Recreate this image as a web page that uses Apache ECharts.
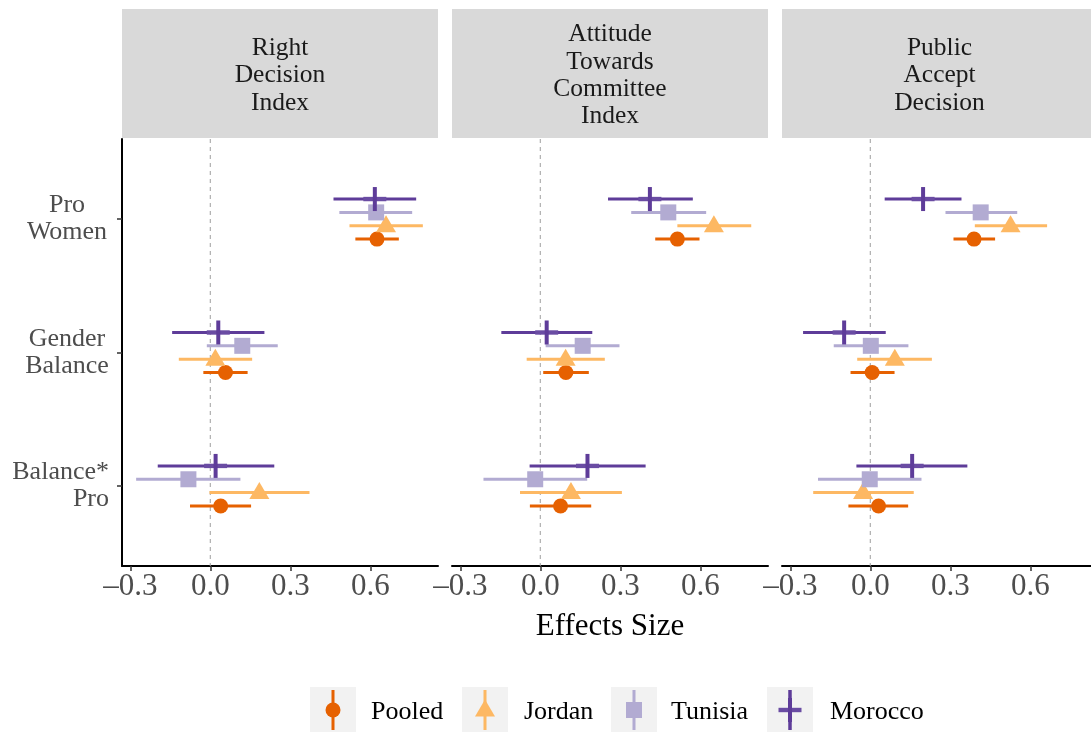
<!DOCTYPE html>
<html><head><meta charset="utf-8">
<script src="https://cdn.jsdelivr.net/npm/echarts@6/dist/echarts.min.js"></script>
<style>html,body{margin:0;padding:0;background:#fff}#c{width:1091px;height:732px}</style>
</head><body><div id="c"></div><script>
// ---------- DATA ----------
const outcomes = ['Right\nDecision\nIndex', 'Attitude\nTowards\nCommittee\nIndex', 'Public\nAccept\nDecision'];
const terms = ['Pro\nWomen', 'Gender\nBalance', 'Balance*\nPro'];
const countries = ['Pooled', 'Jordan', 'Tunisia', 'Morocco'];
const xTickValues = [-0.3, 0.0, 0.3, 0.6];
// [outcome panel][term]
const pooledEst  = [[0.625, 0.057, 0.039], [0.514, 0.096, 0.076], [0.389, 0.007, 0.031]];
const pooledLow  = [[0.544, -0.026, -0.076], [0.431, 0.011, -0.039], [0.312, -0.074, -0.082]];
const pooledHigh = [[0.707, 0.140, 0.153], [0.597, 0.182, 0.191], [0.468, 0.091, 0.142]];
const jordanEst  = [[0.659, 0.019, 0.184], [0.651, 0.095, 0.115], [0.526, 0.092, -0.027]];
const jordanLow  = [[0.522, -0.118, -0.003], [0.514, -0.051, -0.076], [0.392, -0.049, -0.214]];
const jordanHigh = [[0.797, 0.157, 0.372], [0.791, 0.242, 0.306], [0.663, 0.231, 0.163]];
const tunisiaEst  = [[0.622, 0.120, -0.082], [0.480, 0.159, -0.019], [0.414, 0.002, -0.002]];
const tunisiaLow  = [[0.484, -0.013, -0.278], [0.341, 0.020, -0.213], [0.282, -0.137, -0.196]];
const tunisiaHigh = [[0.757, 0.253, 0.113], [0.622, 0.297, 0.176], [0.551, 0.143, 0.192]];
const moroccoEst  = [[0.617, 0.030, 0.020], [0.411, 0.024, 0.177], [0.198, -0.098, 0.157]];
const moroccoLow  = [[0.462, -0.143, -0.197], [0.254, -0.146, -0.040], [0.054, -0.252, -0.052]];
const moroccoHigh = [[0.772, 0.203, 0.240], [0.572, 0.195, 0.395], [0.342, 0.058, 0.364]];

// ---------- STYLE ----------
const colors = ['#e66101', '#fdb863', '#b2abd2', '#5e3c99'];
const dodge = [0.15, 0.05, -0.05, -0.15]; // position dodge (width 0.4)
const FONT = 'Liberation Serif';
const panelLeft = [122, 452, 782];
const panelWidth = [316, 316, 309];
const gridTop = 139, gridHeight = 427;
const pxPerUnit = 266.7;
const xMin = -0.331;

const ests = [pooledEst, jordanEst, tunisiaEst, moroccoEst];
const lows = [pooledLow, jordanLow, tunisiaLow, moroccoLow];
const highs = [pooledHigh, jordanHigh, tunisiaHigh, moroccoHigh];

function panelData(p) {
  const out = [];
  for (let c = 0; c < countries.length; c++) {
    for (let t = 0; t < terms.length; t++) {
      out.push([ests[c][p][t], lows[c][p][t], highs[c][p][t], t + 1 + dodge[c], c]);
    }
  }
  return out;
}

function renderBar(params, api) {
  const a = api.coord([api.value(1), api.value(3)]);
  const b = api.coord([api.value(2), api.value(3)]);
  const c = api.value(4);
  return { type: 'line', shape: { x1: a[0], y1: a[1], x2: b[0], y2: b[1] },
           style: { stroke: colors[c], lineWidth: 3 } };
}
function markerShape(c, x, y) {
  const col = colors[c];
  if (c === 0) return { type: 'circle', shape: { cx: x, cy: y, r: 7.5 }, style: { fill: col } };
  if (c === 1) return { type: 'polygon', shape: { points: [[x, y - 10.5], [x - 10, y + 6.5], [x + 10, y + 6.5]] }, style: { fill: col } };
  if (c === 2) return { type: 'rect', shape: { x: x - 8, y: y - 8, width: 16, height: 16 }, style: { fill: col } };
  return { type: 'group', children: [
    { type: 'rect', shape: { x: x - 11.5, y: y - 2.2, width: 23, height: 4.4 }, style: { fill: '#6a4ca3' } },
    { type: 'rect', shape: { x: x - 2, y: y - 12, width: 4, height: 24 }, style: { fill: col } }
  ] };
}
function renderPoint(params, api) {
  const p = api.coord([api.value(0), api.value(3)]);
  return markerShape(api.value(4), p[0], p[1]);
}

const grids = [], xAxes = [], yAxes = [], series = [], graphics = [];
for (let p = 0; p < 3; p++) {
  grids.push({ left: panelLeft[p], top: gridTop, width: panelWidth[p], height: gridHeight });
  xAxes.push({
    gridIndex: p, type: 'value', min: xMin, max: xMin + panelWidth[p] / pxPerUnit,
    axisLine: { show: true, onZero: false, lineStyle: { color: '#000', width: 2 } },
    axisTick: { show: true, length: 5, customValues: xTickValues, lineStyle: { color: '#333', width: 1.5 } },
    axisLabel: { show: true, customValues: xTickValues, margin: 5, color: '#4d4d4d', fontFamily: FONT, fontSize: 31,
      formatter: v => (v < 0 ? '\u2013' + Math.abs(v).toFixed(1) : Math.abs(v).toFixed(1)) },
    splitLine: { show: false }
  });
  yAxes.push({
    gridIndex: p, type: 'value', min: 0.4, max: 3.6, inverse: true,
    axisLine: { show: p === 0, onZero: false, lineStyle: { color: '#000', width: 2 } },
    axisTick: { show: p === 0, length: 5, customValues: [1, 2, 3], lineStyle: { color: '#333', width: 1.5 } },
    axisLabel: {
      show: p === 0, customValues: [1, 2, 3], margin: 13, align: 'right', color: '#4d4d4d',
      fontFamily: FONT, fontSize: 26, lineHeight: 27,
      formatter: v => {
        const i = Math.round(v) - 1;
        const lines = terms[i].split('\n');
        const key = i === 2 ? 'r' : 'c';
        return lines.map(l => '{' + key + '|' + l + '}').join('\n');
      },
      rich: {
        c: { width: 84, align: 'center', color: '#4d4d4d', fontFamily: FONT, fontSize: 26, lineHeight: 27 },
        r: { align: 'right', color: '#4d4d4d', fontFamily: FONT, fontSize: 26, lineHeight: 27 }
      }
    },
    splitLine: { show: false }
  });
  // zero reference line
  series.push({ type: 'line', xAxisIndex: p, yAxisIndex: p, data: [[0, 0.4], [0, 3.6]], symbol: 'none', silent: true,
    lineStyle: { color: '#9e9e9e', width: 1, type: [4, 4] }, z: 1, animation: false });
  const data = panelData(p);
  series.push({ type: 'custom', name: 'bars' + p, xAxisIndex: p, yAxisIndex: p, data: data, renderItem: renderBar,
    encode: { x: [1, 2], y: 3 }, z: 2, animation: false, silent: true });
  series.push({ type: 'custom', name: 'points' + p, xAxisIndex: p, yAxisIndex: p, data: data, renderItem: renderPoint,
    encode: { x: 0, y: 3 }, z: 3, animation: false, silent: true });

  // facet strip
  graphics.push({ type: 'rect', shape: { x: panelLeft[p], y: 9, width: panelWidth[p], height: 129 }, style: { fill: '#d9d9d9' }, silent: true });
  graphics.push({ type: 'text', x: panelLeft[p] + panelWidth[p] / 2 + (p === 2 ? 3 : 0), y: 75.5,
    style: { text: outcomes[p], fontFamily: FONT, fontSize: 25.5, lineHeight: 27.3, fill: '#1a1a1a', align: 'center', verticalAlign: 'middle' } });
}

// x-axis title
graphics.push({ type: 'text', x: 610, y: 627, style: { text: 'Effects Size', fontFamily: FONT, fontSize: 31, fill: '#000', align: 'center', verticalAlign: 'middle' } });

// legend
const legBoxX = [310, 462, 611, 767];
const legTextX = [371, 524, 671, 830];
const legTop = 687, legSize = 46;
for (let c = 0; c < countries.length; c++) {
  const bx = legBoxX[c], cx = bx + legSize / 2, cy = legTop + legSize / 2;
  graphics.push({ type: 'rect', shape: { x: bx, y: legTop, width: legSize, height: legSize }, style: { fill: '#f2f2f2' } });
  graphics.push({ type: 'line', shape: { x1: cx, y1: legTop + 3, x2: cx, y2: legTop + legSize - 3 }, style: { stroke: colors[c], lineWidth: c === 3 ? 3.5 : 3 } });
  graphics.push(markerShape(c, cx, cy));
  graphics.push({ type: 'text', x: legTextX[c], y: cy + 2, style: { text: countries[c], fontFamily: FONT, fontSize: 26, fill: '#000', align: 'left', verticalAlign: 'middle' } });
}

const chart = echarts.init(document.getElementById('c'), null, { renderer: 'canvas' });
chart.setOption({
  backgroundColor: '#fff',
  animation: false,
  grid: grids, xAxis: xAxes, yAxis: yAxes, series: series,
  graphic: { elements: graphics }
});
</script></body></html>
